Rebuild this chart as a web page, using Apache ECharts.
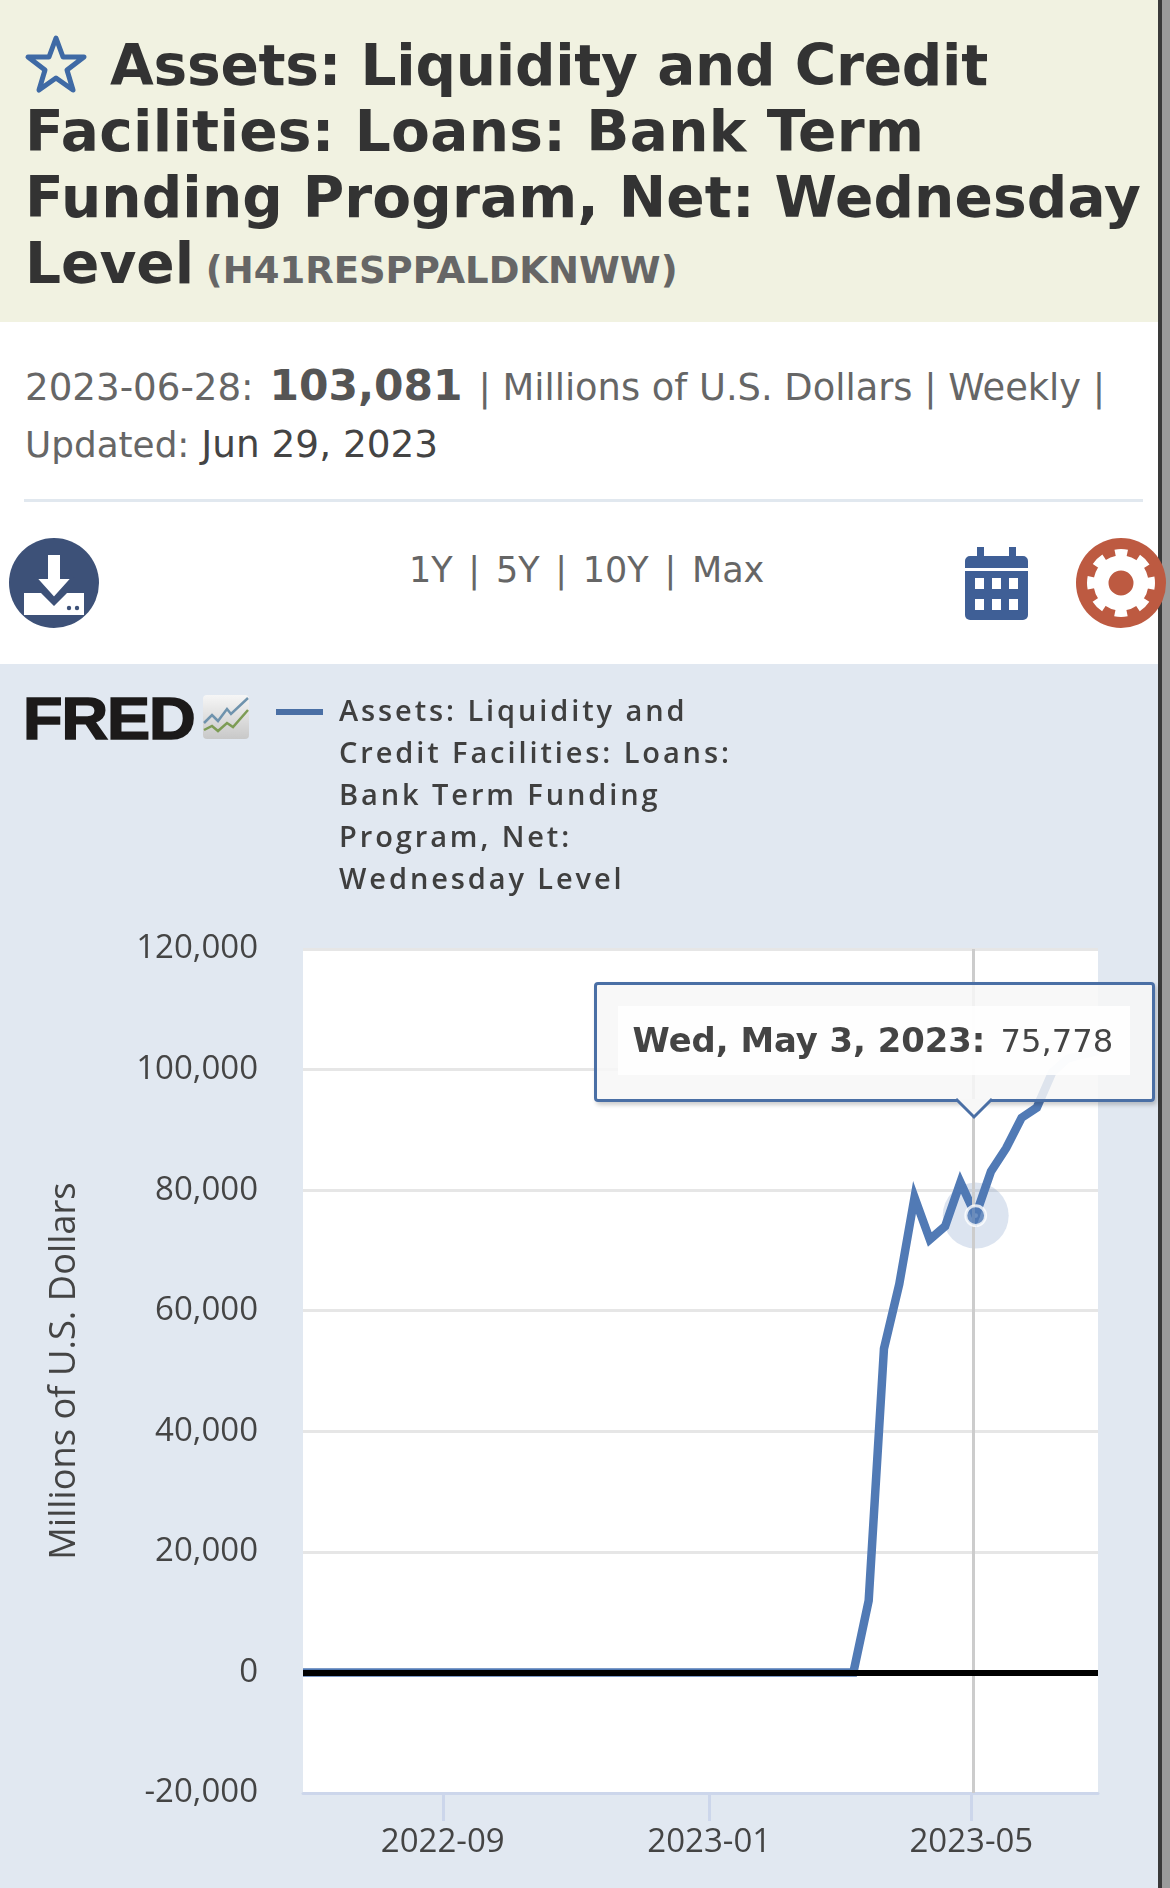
<!DOCTYPE html>
<html>
<head>
<meta charset="utf-8">
<script src="https://cdn.jsdelivr.net/npm/echarts@6/dist/echarts.min.js"></script>
<style>
html, body { margin: 0; padding: 0; background: #fff; width: 1170px; height: 1888px; overflow: hidden; font-family: "DejaVu Sans", sans-serif; }
.abs { position: absolute; white-space: nowrap; }
#head { position: absolute; left: 0; top: 0; width: 1158px; height: 322px; background: #f1f2e1; }
#title { left: 25px; top: 32px; font-size: 56.6px; line-height: 66px; font-weight: 700; color: #333; }
#title small { font-size: 37px; color: #666; font-weight: 700; margin-left: -8px; }
#stat { left: 25px; top: 357px; font-size: 37.2px; line-height: 57px; color: #666; }
#stat b { font-size: 42.4px; color: #555; margin: 0 4px 0 4px; }
#stat i { font-style: normal; font-size: 36.8px; }
#stat u { text-decoration: none; font-size: 35.8px; }
#stat span { color: #444; font-size: 37.4px; }
#rule { position: absolute; left: 24px; top: 499px; width: 1119px; height: 3px; background: #e1e8ef; }
#ranges { left: 409px; top: 546px; font-size: 35px; line-height: 48px; color: #666; word-spacing: 4.6px; }
#main { position: absolute; left: 0; top: 664px; width: 1158px; height: 1224px; background: #e1e8f1; }
#logo { left: 23px; top: 684px; font-family: "Liberation Sans", sans-serif; font-weight: 700; font-size: 60px; line-height: 70px; color: #1c1a1a; -webkit-text-stroke: 1.6px #1c1a1a; letter-spacing: -1px; transform: scaleX(1.077); transform-origin: left center; }
#legendText { left: 339px; top: 689px; font-family: "Open Sans", sans-serif; font-weight: 600; font-size: 29px; line-height: 42px; letter-spacing: 2.9px; color: #3f3f3f; }
#edge { position: absolute; left: 1158px; top: 0; width: 4px; height: 1888px; background: #3a3a3a; }
#gutter { position: absolute; left: 1162px; top: 0; width: 8px; height: 1888px; background: #9b9b9b; }
svg.abs { overflow: visible; }
</style>
</head>
<body>
<div id="head"></div>
<div id="title" class="abs"><span style="display:inline-block;width:85px"></span><span style="letter-spacing:-0.26px">Assets: Liquidity and Credit</span><br><span style="letter-spacing:0.3px">Facilities: Loans: Bank Term</span><br><span style="letter-spacing:0.11px">Funding Program, Net: Wednesday</span><br>Level <small>(H41RESPPALDKNWW)</small></div>
<svg class="abs" style="left:24px;top:34px" width="64" height="60" viewBox="0 0 64 60"><path d="M32 4 L39 23 L60 23 L43 36 L49 56 L32 44 L15 56 L21 36 L4 23 L25 23 Z" fill="none" stroke="#3f6aa5" stroke-width="5" stroke-linejoin="round"/></svg>
<div id="stat" class="abs">2023-06-28: <b>103,081</b> <i>| Millions of U.S. Dollars | Weekly |</i><br><u>Updated:</u> <span>Jun 29, 2023</span></div>
<div id="rule"></div>
<div id="ranges" class="abs">1Y | 5Y | 10Y | Max</div>
<svg class="abs" style="left:9px;top:538px" width="90" height="90" viewBox="0 0 90 90">
  <circle cx="45" cy="45" r="45" fill="#3d5178"/>
  <path d="M15 55 H32 L45 68 L58 55 H75 V77 H15 Z" fill="#fff"/>
  <path d="M38 16 H52 V40 H63 L45 60 L27 40 H38 Z" fill="#fff" stroke="#3d5178" stroke-width="2"/>
  <circle cx="60" cy="70" r="2.2" fill="#3d5178"/><circle cx="68" cy="70" r="2.2" fill="#3d5178"/>
</svg>
<svg class="abs" style="left:965px;top:546px" width="63" height="74" viewBox="0 0 63 74">
  <path d="M12 1 h7 v9 h25 v-9 h7 v9 h7 a5 5 0 0 1 5 5 v7 h-63 v-7 a5 5 0 0 1 5 -5 h7 z" fill="#3f5f96"/>
  <path d="M0 25 h63 v44 a5 5 0 0 1 -5 5 h-53 a5 5 0 0 1 -5 -5 z" fill="#3f5f96"/>
  <g fill="#fff"><rect x="10" y="32" width="9" height="11"/><rect x="27" y="32" width="9" height="11"/><rect x="44" y="32" width="9" height="11"/><rect x="10" y="53" width="9" height="11"/><rect x="27" y="53" width="9" height="11"/><rect x="44" y="53" width="9" height="11"/></g>
</svg>
<div id="main"></div>
<div id="logo" class="abs">FRED</div>
<svg class="abs" style="left:203px;top:695px" width="46" height="44" viewBox="0 0 46 44">
  <defs><linearGradient id="g" x1="0" y1="0" x2="0" y2="1"><stop offset="0" stop-color="#f6f6f6"/><stop offset="1" stop-color="#c8c8c8"/></linearGradient></defs>
  <rect width="46" height="44" rx="4" fill="url(#g)"/>
  <polyline points="1,28 9,20 15,26 24,14 28,19 45,3" fill="none" stroke="#6f93ad" stroke-width="2.5"/>
  <polyline points="1,35 9,31 15,36 24,28 30,32 45,15" fill="none" stroke="#7d9c55" stroke-width="2.5"/>
</svg>
<div id="legendText" class="abs"></div>
<div id="edge"></div>
<div id="gutter"></div>
<svg class="abs" style="left:1076px;top:538px" width="90" height="90" viewBox="0 0 90 90">
  <circle cx="45" cy="45" r="45" fill="#bd5a41"/>
  <circle cx="45" cy="45" r="20" fill="none" stroke="#fff" stroke-width="15"/>
  <circle cx="45" cy="45" r="30" fill="none" stroke="#fff" stroke-width="8" stroke-dasharray="12 11.56" stroke-dashoffset="6"/>
</svg>
<script>
const seriesName = "Assets: Liquidity and Credit Facilities: Loans: Bank Term Funding Program, Net: Wednesday Level";
const legendLines = ["Assets: Liquidity and", "Credit Facilities: Loans:", "Bank Term Funding", "Program, Net:", "Wednesday Level"];
const yTitle = "Millions of U.S. Dollars";
const weeks = [
  "2022-06-29", "2022-07-06", "2022-07-13", "2022-07-20", "2022-07-27",
  "2022-08-03", "2022-08-10", "2022-08-17", "2022-08-24", "2022-08-31",
  "2022-09-07", "2022-09-14", "2022-09-21", "2022-09-28",
  "2022-10-05", "2022-10-12", "2022-10-19", "2022-10-26",
  "2022-11-02", "2022-11-09", "2022-11-16", "2022-11-23", "2022-11-30",
  "2022-12-07", "2022-12-14", "2022-12-21", "2022-12-28",
  "2023-01-04", "2023-01-11", "2023-01-18", "2023-01-25",
  "2023-02-01", "2023-02-08", "2023-02-15", "2023-02-22",
  "2023-03-01", "2023-03-08", "2023-03-15", "2023-03-22", "2023-03-29",
  "2023-04-05", "2023-04-12", "2023-04-19", "2023-04-26",
  "2023-05-03", "2023-05-10", "2023-05-17", "2023-05-24", "2023-05-31",
  "2023-06-07", "2023-06-14", "2023-06-21", "2023-06-28"
];
const values = [
  0, 0, 0, 0, 0,
  0, 0, 0, 0, 0,
  0, 0, 0, 0,
  0, 0, 0, 0,
  0, 0, 0, 0, 0,
  0, 0, 0, 0,
  0, 0, 0, 0,
  0, 0, 0, 0,
  0, 0, 11900, 53700, 64400,
  78800, 71800, 74000, 81300,
  75778, 83100, 87000, 92000, 93700,
  99500, 101800, 102500, 103081
];
const xTicks = ["2022-09-01", "2023-01-01", "2023-05-01"];
const hoverWeek = "2023-05-03";
const crosshairDay = "2023-05-02"; // the grey line sits a little left of the point
const hoverText = "Wed, May 3, 2023:";
const hoverValue = 75778;

document.getElementById("legendText").innerHTML = legendLines.join("<br>");

const chart = echarts.init(document.getElementById("main"));
const LINE = "#4a6fa5";
const hoverIdx = weeks.indexOf(hoverWeek);
const tick = (s) => new Date(s + "T00:00:00").getTime();

chart.setOption({
  animation: false,
  textStyle: { fontFamily: "Open Sans" },
  grid: { left: 303, width: 795, top: 285, height: 844, show: true, backgroundColor: "#fff", borderWidth: 0 },
  xAxis: {
    // value axis on timestamps, customValues crashes on a time axis
    type: "value",
    min: tick("2022-06-29"),
    max: tick("2023-06-28"),
    axisLine: { onZero: false, lineStyle: { color: "#ccd6eb", width: 3 } },
    axisTick: { show: true, length: 28, inside: false, lineStyle: { color: "#ccd6eb", width: 3 }, customValues: xTicks.map(tick) },
    axisLabel: {
      show: true, color: "#444", fontSize: 33, fontFamily: "Open Sans", margin: 33, hideOverlap: false,
      customValues: xTicks.map(tick),
      formatter: (v) => echarts.time.format(v, "{yyyy}-{MM}", false)
    },
    splitLine: { show: false }
  },
  yAxis: {
    type: "value",
    min: -20000,
    max: 120000,
    interval: 20000,
    name: yTitle,
    nameLocation: "middle",
    nameGap: 220,
    nameTextStyle: { color: "#444", fontSize: 36.3, fontFamily: "Open Sans" },
    axisLine: { show: false },
    axisTick: { show: false },
    axisLabel: { color: "#444", fontSize: 33, fontFamily: "Open Sans", margin: 45, formatter: (v) => v.toLocaleString("en-US") },
    splitLine: { lineStyle: { color: "#e6e6e6", width: 3 } }
  },
  tooltip: {
    trigger: "axis",
    axisPointer: { type: "none" },
    alwaysShowContent: true,
    showContent: true,
    transitionDuration: 0,
    confine: false,
    padding: 0,
    borderWidth: 0,
    backgroundColor: "transparent",
    extraCssText: "box-shadow:none;",
    position: () => {
      const p = chart.convertToPixel({ xAxisIndex: 0, yAxisIndex: 0 }, [tick(crosshairDay), hoverValue]);
      return [p[0] - 380, 318];
    },
    formatter: () =>
      '<div style="position:relative;box-sizing:border-box;width:561px;height:120px;border:3px solid ' + LINE + ';border-radius:4px;background:rgba(247,247,247,0.85);box-shadow:2px 3px 4px rgba(0,0,0,0.2);font-family:\'DejaVu Sans\';font-size:32.2px;color:#444;">' +
      '<div style="position:absolute;left:20.6px;top:21px;width:512px;height:69px;line-height:69px;background:rgba(255,255,255,0.88);white-space:nowrap;padding-left:15px;box-sizing:border-box;"><b style="font-size:33.8px;margin-right:5px">' + hoverText + '</b> ' + hoverValue.toLocaleString("en-US") + '</div>' +
      '<svg style="position:absolute;left:357.6px;top:114px;overflow:visible" width="38" height="22"><path d="M1 0 L19 18 L37 0" fill="#f7f7f7" stroke="' + LINE + '" stroke-width="3"/></svg>' +
      '</div>'
  },
  graphic: [
    { type: "rect", left: 276, top: 45, shape: { width: 47, height: 6 }, style: { fill: LINE } }
  ],
  series: [
    {
      name: seriesName,
      type: "line",
      data: weeks.map((d, i) => [tick(d), values[i]]),
      showSymbol: false,
      z: 3,
      lineStyle: { color: LINE, width: 8.5, join: "miter", miterLimit: 10, cap: "butt" },
      itemStyle: { color: LINE },
      markLine: {
        silent: true,
        symbol: "none",
        animation: false,
        label: { show: false },
        data: [
          { xAxis: tick(crosshairDay), lineStyle: { color: "#cccccc", width: 3, type: "solid" } },
          { yAxis: 0, lineStyle: { color: "#000", width: 6, type: "solid" } }
        ]
      }
    },
    {
      name: "hover halo",
      type: "scatter",
      silent: true,
      z: 4,
      symbolSize: 60,
      itemStyle: { color: "rgba(74,111,165,0.25)" },
      data: [[tick(hoverWeek), hoverValue]]
    },
    {
      name: "hover point",
      type: "scatter",
      silent: true,
      z: 6,
      symbolSize: 18,
      itemStyle: { color: LINE, borderColor: "#fff", borderWidth: 3 },
      data: [[tick(hoverWeek), hoverValue]]
    }
  ]
});
chart.dispatchAction({ type: "showTip", seriesIndex: 0, dataIndex: hoverIdx });
</script>
</body>
</html>
